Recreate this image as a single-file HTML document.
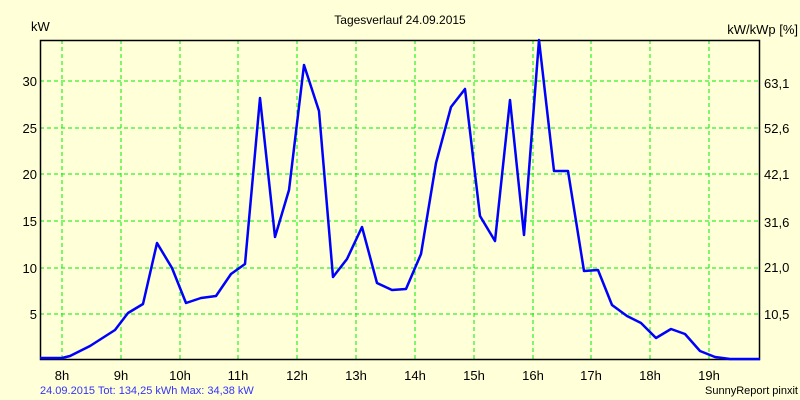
<!DOCTYPE html>
<html><head><style>body{margin:0;background:#ffffd8;}svg{display:block;font-family:"Liberation Sans",sans-serif;}</style></head><body>
<svg width="800" height="400" xmlns="http://www.w3.org/2000/svg">
<rect width="800" height="400" fill="#ffffd8"/>
<g stroke="#00ee00" stroke-width="1" stroke-dasharray="4,3">
<line x1="62" y1="40" x2="62" y2="359"/><line x1="121" y1="40" x2="121" y2="359"/><line x1="180" y1="40" x2="180" y2="359"/><line x1="238" y1="40" x2="238" y2="359"/><line x1="297" y1="40" x2="297" y2="359"/><line x1="356" y1="40" x2="356" y2="359"/><line x1="415" y1="40" x2="415" y2="359"/><line x1="474" y1="40" x2="474" y2="359"/><line x1="533" y1="40" x2="533" y2="359"/><line x1="591" y1="40" x2="591" y2="359"/><line x1="650" y1="40" x2="650" y2="359"/><line x1="709" y1="40" x2="709" y2="359"/>
<line x1="40" y1="81" x2="760" y2="81"/><line x1="40" y1="128" x2="760" y2="128"/><line x1="40" y1="174" x2="760" y2="174"/><line x1="40" y1="221" x2="760" y2="221"/><line x1="40" y1="268" x2="760" y2="268"/><line x1="40" y1="314" x2="760" y2="314"/>
</g>
<rect x="40.5" y="40.5" width="719" height="319" fill="none" stroke="#000" stroke-width="1.5"/>
<polyline fill="none" stroke="#0000ff" stroke-width="2.5" stroke-linejoin="round" points="40,358 62,358 70,356 90,346 115,330 128,313 143,304 157,243 172,268 186,303 201,298 216,296 231,274 245,264 260,98 275,237 289,190 304,65 319,111 333,277 347,259 362,227 377,283 392,290 406,289 421,254 436,163 451,107 465,89 480,216 495,241 510,100 524,235 539,40 554,171 568,171 584,271 598,270 612,305 627,316 641,323 656,338 671,329 685,334 700,351 715,357 730,359 760,359"/>
<g font-size="13" fill="#000">
<text x="400" y="24" text-anchor="middle" font-size="12">Tagesverlauf 24.09.2015</text>
<text x="31" y="31">kW</text>
<text x="798" y="34" text-anchor="end">kW/kWp [%]</text>
<g text-anchor="end"><text x="37" y="86">30</text><text x="37" y="133">25</text><text x="37" y="179">20</text><text x="37" y="226">15</text><text x="37" y="273">10</text><text x="37" y="319">5</text></g>
<g><text x="764" y="88">63,1</text><text x="764" y="133">52,6</text><text x="764" y="179">42,1</text><text x="764" y="227">31,6</text><text x="764" y="272">21,0</text><text x="764" y="319">10,5</text></g>
<g text-anchor="middle"><text x="62" y="380">8h</text><text x="121" y="380">9h</text><text x="180" y="380">10h</text><text x="238" y="380">11h</text><text x="297" y="380">12h</text><text x="356" y="380">13h</text><text x="415" y="380">14h</text><text x="474" y="380">15h</text><text x="533" y="380">16h</text><text x="591" y="380">17h</text><text x="650" y="380">18h</text><text x="709" y="380">19h</text></g>
<text x="40" y="394" font-size="11" fill="#3333ff">24.09.2015 Tot: 134,25 kWh Max: 34,38 kW</text>
<text x="798" y="394" font-size="11" text-anchor="end">SunnyReport pinxit</text>
</g>
</svg>
</body></html>
